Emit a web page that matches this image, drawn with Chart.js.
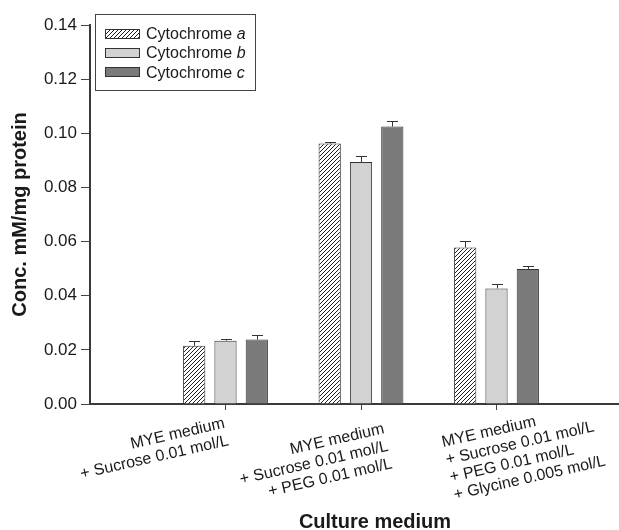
<!DOCTYPE html>
<html>
<head>
<meta charset="utf-8">
<script src="https://cdn.jsdelivr.net/npm/chart.js@4.4.1/dist/chart.umd.min.js"></script>
<style>
    html, body { margin: 0; padding: 0; background: #fff; }
    #wrap { width: 619px; height: 530px; }
</style>
</head>
<body>
<div id="wrap"><canvas id="cytoChart" width="619" height="530"></canvas></div>
<script>
// data
const categories = [
    ["MYE medium", "+ Sucrose 0.01 mol/L"],
    ["MYE medium", "+ Sucrose 0.01 mol/L", "+ PEG 0.01 mol/L"],
    ["MYE medium", "+ Sucrose 0.01 mol/L", "+ PEG 0.01 mol/L", "+ Glycine 0.005 mol/L"]
];
const categoryX = [1, 2, 3];
const seriesNames = ["Cytochrome ", "Cytochrome ", "Cytochrome "];
const seriesLetters = ["a", "b", "c"];
const cytA = [0.0215, 0.0962, 0.0578];
const cytAErr = [0.0019, 0.0007, 0.0024];
const cytB = [0.0234, 0.0894, 0.0427];
const cytBErr = [0.0007, 0.0021, 0.0015];
const cytC = [0.0238, 0.1025, 0.0499];
const cytCErr = [0.0016, 0.0020, 0.0010];
const yTicks = [0, 0.02, 0.04, 0.06, 0.08, 0.10, 0.12, 0.14];

document.addEventListener("DOMContentLoaded", () => {
    const FONT = "'Liberation Sans', Arial, Helvetica, sans-serif";
    const ink = "#1a1a1a";
    const edge = "#333";

    function makeHatch() {
        const s = 4;
        const c = document.createElement("canvas");
        c.width = s; c.height = s;
        const g = c.getContext("2d");
        g.fillStyle = "#fff";
        g.fillRect(0, 0, s, s);
        g.strokeStyle = "#222";
        g.lineWidth = 1;
        g.beginPath();
        g.moveTo(0, s); g.lineTo(s, 0);
        g.moveTo(-1, 1); g.lineTo(1, -1);
        g.moveTo(s - 1, s + 1); g.lineTo(s + 1, s - 1);
        g.stroke();
        return g.createPattern(c, "repeat");
    }
    const hatch = makeHatch();
    const fills = [hatch, "#d2d2d2", "#7a7a7a"];
    const values = [cytA, cytB, cytC];
    const errors = [cytAErr, cytBErr, cytCErr];

    // where the first line of each tick label ends (baseline), and its alignment
    const labelAnchors = [
        { x: 225.5, y: 427.5, align: "right" },
        { x: 385, y: 433, align: "right" },
        { x: 443, y: 447, align: "left" }
    ];
    const labelAngle = 12.8 * Math.PI / 180;

    const extras = {
        id: "extras",
        afterDatasetsDraw(chart) {
            const ctx = chart.ctx;
            const yScale = chart.scales.y;
            ctx.save();
            ctx.strokeStyle = edge;
            ctx.lineWidth = 1;
            errors.forEach((errs, i) => {
                const meta = chart.getDatasetMeta(i);
                meta.data.forEach((bar, j) => {
                    const top = yScale.getPixelForValue(values[i][j] + errs[j]);
                    const x = Math.round(bar.x) + 0.5;
                    ctx.beginPath();
                    ctx.moveTo(x, bar.y);
                    ctx.lineTo(x, Math.round(top) + 0.5);
                    ctx.moveTo(x - 5.5, Math.round(top) + 0.5);
                    ctx.lineTo(x + 5.5, Math.round(top) + 0.5);
                    ctx.stroke();
                });
            });
            ctx.restore();
        },
        afterDraw(chart) {
            const ctx = chart.ctx;
            ctx.save();
            ctx.fillStyle = ink;

            // rotated category labels
            ctx.font = "16px " + FONT;
            ctx.textBaseline = "alphabetic";
            categories.forEach((lines, i) => {
                const a = labelAnchors[i];
                ctx.save();
                ctx.translate(a.x, a.y);
                ctx.rotate(-labelAngle);
                ctx.textAlign = a.align;
                lines.forEach((line, k) => ctx.fillText(line, 0, k * 18));
                ctx.restore();
            });

            // x axis title
            ctx.font = "bold 20px " + FONT;
            ctx.textAlign = "center";
            ctx.fillText("Culture medium", 375, 528);

            // legend box
            const bx = 95.5, by = 14.5, bw = 160, bh = 76;
            ctx.fillStyle = "#fff";
            ctx.fillRect(bx, by, bw, bh);
            ctx.strokeStyle = "#444";
            ctx.lineWidth = 1;
            ctx.strokeRect(bx, by, bw, bh);
            ctx.textAlign = "left";
            ctx.textBaseline = "middle";
            seriesNames.forEach((name, i) => {
                const cy = 33.5 + i * 19.3;
                ctx.fillStyle = fills[i];
                ctx.fillRect(105.5, Math.round(cy) - 4.5, 34, 9);
                ctx.strokeStyle = edge;
                ctx.strokeRect(105.5, Math.round(cy) - 4.5, 34, 9);
                ctx.fillStyle = ink;
                ctx.font = "16px " + FONT;
                ctx.fillText(name, 146, cy + 1);
                const w = ctx.measureText(name).width;
                ctx.font = "italic 16px " + FONT;
                ctx.fillText(seriesLetters[i], 146 + w, cy + 1);
            });
            ctx.restore();
        }
    };

    const ctx = document.getElementById("cytoChart").getContext("2d");
    new Chart(ctx, {
        type: "bar",
        data: {
            datasets: values.map((vals, i) => ({
                label: seriesNames[i] + seriesLetters[i],
                data: vals.map((v, j) => ({ x: categoryX[j], y: v })),
                backgroundColor: fills[i],
                borderColor: edge,
                borderWidth: 1,
                borderSkipped: "bottom",
                categoryPercentage: 0.693,
                barPercentage: 0.71
            }))
        },
        options: {
            responsive: false,
            animation: false,
            layout: { padding: { top: 25, left: 0, right: 0, bottom: 0 } },
            plugins: {
                legend: { display: false },
                tooltip: { enabled: false }
            },
            scales: {
                x: {
                    type: "linear",
                    min: 0,
                    max: 3.904,
                    offset: false,
                    afterBuildTicks: (scale) => {
                        scale.ticks = categoryX.map(v => ({ value: v }));
                    },
                    afterFit: (scale) => { scale.height = 126; },
                    ticks: { display: false },
                    grid: { offset: false, drawOnChartArea: false, tickLength: 6, color: "#444", lineWidth: 1 },
                    border: { color: "#3a3a3a", width: 2 }
                },
                y: {
                    min: 0,
                    max: 0.14,
                    afterBuildTicks: (scale) => {
                        scale.ticks = yTicks.map(v => ({ value: v }));
                    },
                    afterFit: (scale) => { scale.width = 90; },
                    ticks: {
                        padding: 4,
                        color: ink,
                        font: { family: FONT, size: 17 },
                        callback: (v) => Number(v).toFixed(2)
                    },
                    grid: { drawOnChartArea: false, tickLength: 9, color: "#444", lineWidth: 1 },
                    border: { color: "#3a3a3a", width: 2 },
                    title: {
                        display: true,
                        text: "Conc. mM/mg protein",
                        color: ink,
                        font: { family: FONT, size: 20, weight: "bold" },
                        padding: { top: 8, bottom: 0 }
                    }
                }
            }
        },
        plugins: [extras]
    });
});
</script>
</body>
</html>
